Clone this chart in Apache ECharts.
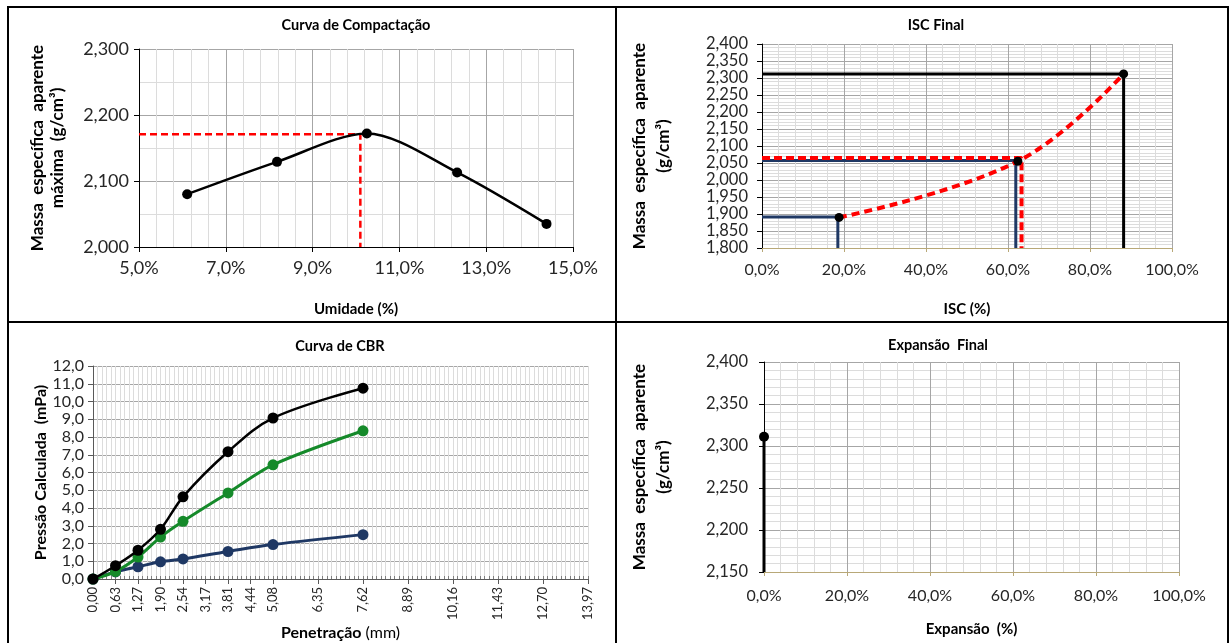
<!DOCTYPE html>
<html><head><meta charset="utf-8">
<script src="https://cdn.jsdelivr.net/npm/echarts@6/dist/echarts.min.js"></script>
<style>html,body{margin:0;padding:0;background:#fff}#c{width:1232px;height:643px}</style>
</head><body><div id="c"></div>
<script>
// ---- Curva de Compactação ----
const compUmidade   = [6.11, 8.18, 10.25, 12.33, 14.39];
const compDensidade = [2.080, 2.129, 2.172, 2.113, 2.035];
const compOtimaUmidade = 10.1;
const compOtimaDensidade = 2.171;
const compXTicks = [5, 7, 9, 11, 13, 15];

// ---- ISC Final ----
const iscValores    = [18.8, 62.4, 88.2];
const iscDensidades = [1.890, 2.055, 2.312];
const iscRefAzul1   = [18.5, 1.891];
const iscRefAzul2   = [61.9, 2.057];
const iscRefVerm    = [63.3, 2.065];
const iscRefPreto   = [88.2, 2.312];

// ---- Curva de CBR ----
const cbrPenetracao = [0, 0.635, 1.27, 1.905, 2.54, 3.81, 5.08, 7.62];
const cbrPreto = [0, 0.75, 1.62, 2.80, 4.63, 7.17, 9.07, 10.75];
const cbrVerde = [0, 0.42, 1.24, 2.36, 3.25, 4.85, 6.43, 8.35];
const cbrAzul  = [0, 0.40, 0.69, 0.97, 1.13, 1.55, 1.94, 2.50];
const cbrXTicks  = [0, 0.635, 1.27, 1.905, 2.54, 3.175, 3.81, 4.445, 5.08, 6.35, 7.62, 8.89, 10.16, 11.43, 12.70, 13.97];
const cbrXLabels = ['0,00','0,63','1,27','1,90','2,54','3,17','3,81','4,44','5,08','6,35','7,62','8,89','10,16','11,43','12,70','13,97'];

// ---- Expansão Final ----
const expValores    = [0.0];
const expDensidades = [2.311];

const fmtPct = v => v.toFixed(1).replace('.', ',') + '%';
const fmt3 = v => v.toFixed(3).replace('.', ',');
const fmt1 = v => v.toFixed(1).replace('.', ',');
const zip = (a, b) => a.map((x, i) => [x, b[i]]);

const MAJ = '#A6A6A6', MIN = '#DCDCDC', LBL = '#262626', KHAKI = '#B8A878';
const BLUE = '#1F3864', GREEN = '#158A2A', RED = '#FF0000';
const FONT = 'Lato';

function refPath(p, xMin, yMin) {
  return [[xMin, p[1]], [p[0], p[1]], [p[0], yMin]];
}

const cbrLabelFor = v => {
  let bi = 0, bd = 1e9;
  cbrXTicks.forEach((t, i) => { const d = Math.abs(t - v); if (d < bd) { bd = d; bi = i; } });
  return cbrXLabels[bi];
};

const hidden = { axisLine: { show: false }, axisTick: { show: false }, axisLabel: { show: false } };

const option = {
  animation: false,
  backgroundColor: '#fff',
  textStyle: { fontFamily: FONT },
  grid: [
    { left: 139, top: 49, width: 434, height: 198, outerBoundsMode: 'none' },
    { left: 762, top: 44, width: 410, height: 204, outerBoundsMode: 'none' },
    { left: 93, top: 366, width: 495, height: 213, outerBoundsMode: 'none' },
    { left: 764, top: 362, width: 415, height: 210, outerBoundsMode: 'none' }
  ],
  xAxis: [
    // 0 top-left data axis
    { gridIndex: 0, type: 'value', min: 5, max: 15, position: 'bottom',
      name: 'Umidade (%)', nameLocation: 'middle', nameGap: 55,
      nameTextStyle: { fontSize: 15, fontWeight: 'bold', color: '#000' },
      axisLine: { lineStyle: { color: '#000', width: 1 } },
      axisTick: { show: true, length: 5, customValues: compXTicks, lineStyle: { color: '#000' } },
      axisLabel: { customValues: compXTicks, formatter: fmtPct, fontSize: 18, color: LBL, margin: 12 },
      splitLine: { show: false } },
    // 1 top-left grid helper (offset scale 0..10 = 5%..15%)
    Object.assign({ gridIndex: 0, type: 'value', min: 0, max: 10, interval: 2, position: 'bottom',
      splitLine: { show: true, lineStyle: { color: MAJ } },
      minorTick: { show: false, splitNumber: 5 },
      minorSplitLine: { show: true, lineStyle: { color: MIN } } }, hidden),
    // 2 top-right
    { gridIndex: 1, type: 'value', min: 0, max: 100, interval: 20,
      name: 'ISC (%)', nameLocation: 'middle', nameGap: 54,
      nameTextStyle: { fontSize: 15, fontWeight: 'bold', color: '#000' },
      axisLine: { lineStyle: { color: KHAKI, width: 1 } },
      axisTick: { show: true, length: 4, lineStyle: { color: KHAKI } },
      axisLabel: { formatter: fmtPct, fontSize: 16, color: LBL, margin: 14 },
      splitLine: { show: true, lineStyle: { color: MAJ } },
      minorTick: { show: false, splitNumber: 5 },
      minorSplitLine: { show: true, lineStyle: { color: MIN } } },
    // 3 bottom-left data axis
    { gridIndex: 2, type: 'value', min: 0, max: 13.97, position: 'bottom',
      name: '{b|Penetração} {n|(mm)}', nameLocation: 'middle', nameGap: 46,
      nameTextStyle: { fontSize: 16, color: '#000', rich: { b: { fontSize: 16, fontWeight: 'bold', fontFamily: FONT }, n: { fontSize: 16, fontFamily: FONT } } },
      axisLine: { lineStyle: { color: '#595959', width: 1 } },
      axisTick: { show: true, length: 5, customValues: cbrXTicks, lineStyle: { color: '#595959' } },
      axisLabel: { customValues: cbrXTicks, formatter: cbrLabelFor, rotate: 90, fontSize: 13, color: LBL, margin: 8 },
      splitLine: { show: true, lineStyle: { color: MAJ } } },
    // 4 bottom-left minor grid helper
    Object.assign({ gridIndex: 2, type: 'value', min: 0, max: 13.97, interval: 0.127, position: 'bottom',
      splitLine: { show: true, lineStyle: { color: MIN } } }, hidden,
      { axisTick: { show: true, inside: true, length: 3, lineStyle: { color: '#7F7F7F' } } }),
    // 5 bottom-right
    { gridIndex: 3, type: 'value', min: 0, max: 100, interval: 20,
      name: 'Expansão  (%)', nameLocation: 'middle', nameGap: 50,
      nameTextStyle: { fontSize: 15, fontWeight: 'bold', color: '#000' },
      axisLine: { lineStyle: { color: KHAKI, width: 1 } },
      axisTick: { show: true, length: 4, lineStyle: { color: KHAKI } },
      axisLabel: { formatter: fmtPct, fontSize: 16, color: LBL, margin: 16 },
      splitLine: { show: true, lineStyle: { color: MAJ } },
      minorTick: { show: false, splitNumber: 5 },
      minorSplitLine: { show: true, lineStyle: { color: MIN } } }
  ],
  yAxis: [
    { gridIndex: 0, type: 'value', min: 2.0, max: 2.3, interval: 0.1,
      name: 'Massa  específica  aparente\nmáxima  (g/cm³)', nameLocation: 'middle', nameGap: 71, nameRotate: 90,
      nameTextStyle: { fontSize: 17, fontWeight: 'bold', color: '#000', lineHeight: 20 },
      axisLine: { show: true, lineStyle: { color: '#000' } },
      axisTick: { show: true, length: 5, lineStyle: { color: '#000' } },
      axisLabel: { formatter: fmt3, fontSize: 18, color: LBL, margin: 10 },
      splitLine: { show: true, lineStyle: { color: MAJ } },
      minorTick: { show: false, splitNumber: 2 },
      minorSplitLine: { show: true, lineStyle: { color: MIN } } },
    { gridIndex: 1, type: 'value', min: 1.8, max: 2.4, interval: 0.05,
      name: 'Massa  específica  aparente\n(g/cm³)', nameLocation: 'middle', nameGap: 86, nameRotate: 90,
      nameTextStyle: { fontSize: 17, fontWeight: 'bold', color: '#000', lineHeight: 24 },
      axisLine: { show: true, lineStyle: { color: '#000' } },
      axisTick: { show: true, length: 5, lineStyle: { color: '#000' } },
      axisLabel: { formatter: fmt3, fontSize: 16.5, color: LBL, margin: 14 },
      splitLine: { show: true, lineStyle: { color: MAJ } },
      minorTick: { show: false, splitNumber: 5 },
      minorSplitLine: { show: true, lineStyle: { color: MIN } } },
    { gridIndex: 2, type: 'value', min: 0, max: 12, interval: 1,
      name: 'Pressão Calculada  (mPa)', nameLocation: 'middle', nameGap: 40, nameRotate: 90,
      nameTextStyle: { fontSize: 16, fontWeight: 'bold', color: '#000' },
      axisLine: { show: true, lineStyle: { color: '#595959' } },
      axisTick: { show: true, length: 5, lineStyle: { color: '#595959' } },
      axisLabel: { formatter: fmt1, fontSize: 16, color: LBL, margin: 9 },
      splitLine: { show: true, lineStyle: { color: MAJ } } },
    { gridIndex: 3, type: 'value', min: 2.15, max: 2.4, interval: 0.05,
      name: 'Massa  específica  aparente\n(g/cm³)', nameLocation: 'middle', nameGap: 88, nameRotate: 90,
      nameTextStyle: { fontSize: 17, fontWeight: 'bold', color: '#000', lineHeight: 24 },
      axisLine: { show: true, lineStyle: { color: '#000' } },
      axisTick: { show: true, length: 5, lineStyle: { color: '#000' } },
      axisLabel: { formatter: fmt3, fontSize: 16.5, color: LBL, margin: 16 },
      splitLine: { show: true, lineStyle: { color: MAJ } },
      minorTick: { show: false, splitNumber: 5 },
      minorSplitLine: { show: true, lineStyle: { color: MIN } } }
  ],
  series: [
    // top-left
    { type: 'line', xAxisIndex: 0, yAxisIndex: 0, symbol: 'none', z: 3,
      data: refPath([compOtimaUmidade, compOtimaDensidade], compXTicks[0], 2.0),
      lineStyle: { color: RED, width: 2.5, type: [7, 4] } },
    { type: 'line', xAxisIndex: 0, yAxisIndex: 0, smooth: 0.3, z: 4,
      data: zip(compUmidade, compDensidade), symbol: 'circle', symbolSize: 10,
      itemStyle: { color: '#000' }, lineStyle: { color: '#000', width: 2.5 } },
    // top-right
    { type: 'line', xAxisIndex: 2, yAxisIndex: 1, symbol: 'none', z: 3,
      data: refPath(iscRefAzul1, 0, 1.8), lineStyle: { color: BLUE, width: 3 } },
    { type: 'line', xAxisIndex: 2, yAxisIndex: 1, symbol: 'none', z: 3,
      data: refPath(iscRefAzul2, 0, 1.8), lineStyle: { color: BLUE, width: 3 } },
    { type: 'line', xAxisIndex: 2, yAxisIndex: 1, symbol: 'none', z: 3,
      data: refPath(iscRefPreto, 0, 1.8), lineStyle: { color: '#000', width: 3 } },
    { type: 'line', xAxisIndex: 2, yAxisIndex: 1, symbol: 'none', z: 4,
      data: refPath(iscRefVerm, 0, 1.8), lineStyle: { color: RED, width: 4, type: [8, 4] } },
    { type: 'line', xAxisIndex: 2, yAxisIndex: 1, smooth: 0.4, z: 5,
      data: zip(iscValores, iscDensidades), symbol: 'circle', symbolSize: 9,
      itemStyle: { color: '#000' }, lineStyle: { color: RED, width: 4, type: [8, 5] } },
    // bottom-left
    { type: 'line', xAxisIndex: 3, yAxisIndex: 2, smooth: 0.35, z: 3,
      data: zip(cbrPenetracao, cbrAzul), symbol: 'circle', symbolSize: 11,
      itemStyle: { color: BLUE }, lineStyle: { color: BLUE, width: 3 } },
    { type: 'line', xAxisIndex: 3, yAxisIndex: 2, smooth: 0.3, z: 4,
      data: zip(cbrPenetracao, cbrVerde), symbol: 'circle', symbolSize: 11,
      itemStyle: { color: GREEN }, lineStyle: { color: GREEN, width: 3 } },
    { type: 'line', xAxisIndex: 3, yAxisIndex: 2, smooth: 0.35, z: 5,
      data: zip(cbrPenetracao, cbrPreto), symbol: 'circle', symbolSize: 11,
      itemStyle: { color: '#000' }, lineStyle: { color: '#000', width: 2.5 } },
    // bottom-right
    { type: 'line', xAxisIndex: 5, yAxisIndex: 3, clip: false, z: 4,
      data: [
        { value: [expValores[0], expDensidades[0]], symbol: 'circle', symbolSize: 10 },
        { value: [expValores[0], 2.15], symbol: 'none' }
      ],
      itemStyle: { color: '#000' }, lineStyle: { color: '#000', width: 3 } }
  ],
  graphic: [
    { type: 'rect', shape: { x: 8, y: 7, width: 1220, height: 640 }, style: { fill: 'none', stroke: '#000', lineWidth: 2 }, silent: true, z: 100 },
    { type: 'line', shape: { x1: 616, y1: 7, x2: 616, y2: 643 }, style: { stroke: '#000', lineWidth: 2 }, silent: true, z: 100 },
    { type: 'line', shape: { x1: 8, y1: 322, x2: 1228, y2: 322 }, style: { stroke: '#000', lineWidth: 2 }, silent: true, z: 100 },
    { type: 'text', x: 356, y: 25, style: { text: 'Curva de Compactação', font: 'bold 14.5px Lato', fill: '#000', textAlign: 'center', textVerticalAlign: 'middle' } },
    { type: 'text', x: 936, y: 25, style: { text: 'ISC Final', font: 'bold 14.5px Lato', fill: '#000', textAlign: 'center', textVerticalAlign: 'middle' } },
    { type: 'text', x: 340, y: 346, style: { text: 'Curva de CBR', font: 'bold 14.5px Lato', fill: '#000', textAlign: 'center', textVerticalAlign: 'middle' } },
    { type: 'text', x: 938, y: 345, style: { text: 'Expansão  Final', font: 'bold 14.5px Lato', fill: '#000', textAlign: 'center', textVerticalAlign: 'middle' } }
  ]
};

const chart = echarts.init(document.getElementById('c'), null, { renderer: 'canvas' });
chart.setOption(option);
</script>
</body></html>
